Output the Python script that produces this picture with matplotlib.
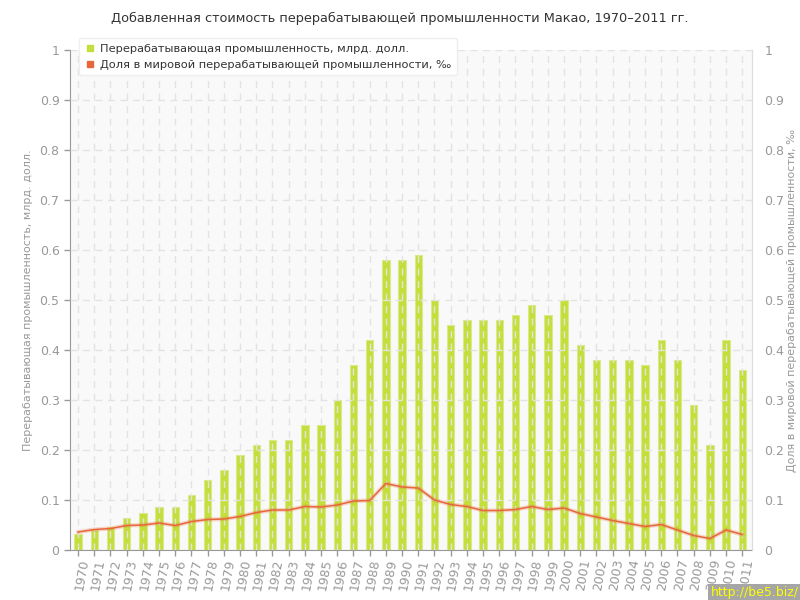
import matplotlib
matplotlib.use('Agg')
import matplotlib.pyplot as plt
import numpy as np

years = [str(y) for y in range(1970, 2012)]
value_added = [0.033, 0.04, 0.047, 0.065, 0.074, 0.087, 0.087, 0.11, 0.14, 0.16,
               0.19, 0.21, 0.22, 0.22, 0.25, 0.25, 0.30, 0.37, 0.42, 0.58,
               0.58, 0.59, 0.50, 0.45, 0.46, 0.46, 0.46, 0.47, 0.49, 0.47,
               0.50, 0.41, 0.38, 0.38, 0.38, 0.37, 0.42, 0.38, 0.29, 0.21,
               0.42, 0.36]
world_share = [0.036, 0.041, 0.043, 0.049, 0.050, 0.054, 0.049, 0.057, 0.061, 0.062,
               0.067, 0.075, 0.080, 0.080, 0.087, 0.086, 0.090, 0.098, 0.099, 0.133,
               0.126, 0.124, 0.100, 0.091, 0.087, 0.079, 0.079, 0.081, 0.087, 0.081,
               0.084, 0.073, 0.066, 0.059, 0.053, 0.047, 0.051, 0.040, 0.029, 0.023,
               0.040, 0.031]
yticks = [0, 0.1, 0.2, 0.3, 0.4, 0.5, 0.6, 0.7, 0.8, 0.9, 1]
ytick_labels = ['0', '0.1', '0.2', '0.3', '0.4', '0.5', '0.6', '0.7', '0.8', '0.9', '1']

title = 'Добавленная стоимость перерабатывающей промышленности Макао, 1970–2011 гг.'
left_label = 'Перерабатывающая промышленность, млрд. долл.'
right_label = 'Доля в мировой перерабатывающей промышленности, ‰'

bar_color = '#c4df3c'
line_color = '#e8673a'
gray = '#999999'

fig = plt.figure(figsize=(8, 6), dpi=100)
ax = fig.add_axes([0.0875, 0.0833, 0.8525, 0.8334])
ax.set_facecolor('#f9f9f9')

x = np.arange(len(years))
ax.bar(x, value_added, width=0.45, color=bar_color, edgecolor='#d9ea8c',
       linewidth=0.8, zorder=1)

ax.set_xlim(-0.5, len(years) - 0.4)
ax.set_ylim(0, 1)
ax.set_yticks(yticks)
ax.set_yticklabels(ytick_labels)
ax.set_xticks(x)
ax.set_xticklabels(years, rotation=80, ha='right', va='top',
                   rotation_mode='anchor')
ax.grid(True, color='#e3e3e3', linestyle=(0, (5, 4)), linewidth=1)
ax.set_axisbelow(False)

ax.spines['top'].set_visible(False)
ax.spines['left'].set_color(gray)
ax.spines['bottom'].set_color(gray)
ax.spines['right'].set_color('#dddddd')
ax.tick_params(axis='both', colors=gray, labelcolor=gray, labelsize=9,
               length=4, width=1)
ax.tick_params(axis='x', pad=2)
ax.set_ylabel(left_label, color=gray, fontsize=8)
ax.yaxis.set_label_coords(-0.054, 0.5)

ax2 = ax.twinx()
ax2.set_ylim(0, 1)
ax2.set_yticks(yticks)
ax2.set_yticklabels(ytick_labels)
ax2.plot(x, world_share, color=line_color, linewidth=3, alpha=0.25, zorder=3)
ax2.plot(x, world_share, color=line_color, linewidth=1.1, zorder=4)
for side in ['top', 'left', 'bottom']:
    ax2.spines[side].set_visible(False)
ax2.spines['right'].set_color('#dddddd')
ax2.tick_params(axis='y', colors='#dddddd', labelcolor=gray, labelsize=9,
                length=0, pad=9)
ax2.set_ylabel(right_label, color=gray, fontsize=8)
ax2.yaxis.set_label_coords(1.051, 0.5)

# legend
h1 = plt.Line2D([], [], marker='s', linestyle='none', color=bar_color, markersize=5)
h2 = plt.Line2D([], [], marker='s', linestyle='none', color=line_color, markersize=5)
leg = ax2.legend([h1, h2], [left_label, right_label], loc='upper left',
                 bbox_to_anchor=(0.005, 1.035), fontsize=8.2, frameon=True,
                 fancybox=True, framealpha=1, edgecolor='#eeeeee',
                 handletextpad=0.3, borderpad=0.5, labelspacing=0.5,
                 handlelength=1.0)
leg.get_frame().set_facecolor('white')
for t in leg.get_texts():
    t.set_color('#333333')

fig.text(0.5, 0.97, title, ha='center', va='center', fontsize=9.3, color='#333333')
fig.text(0.998, 0.002, 'http://be5.biz/', ha='right', va='bottom', fontsize=9,
         color='#ffff00', bbox=dict(facecolor='#a6a6a6', edgecolor='none', pad=1.5))

fig.savefig('out.png', dpi=100)
